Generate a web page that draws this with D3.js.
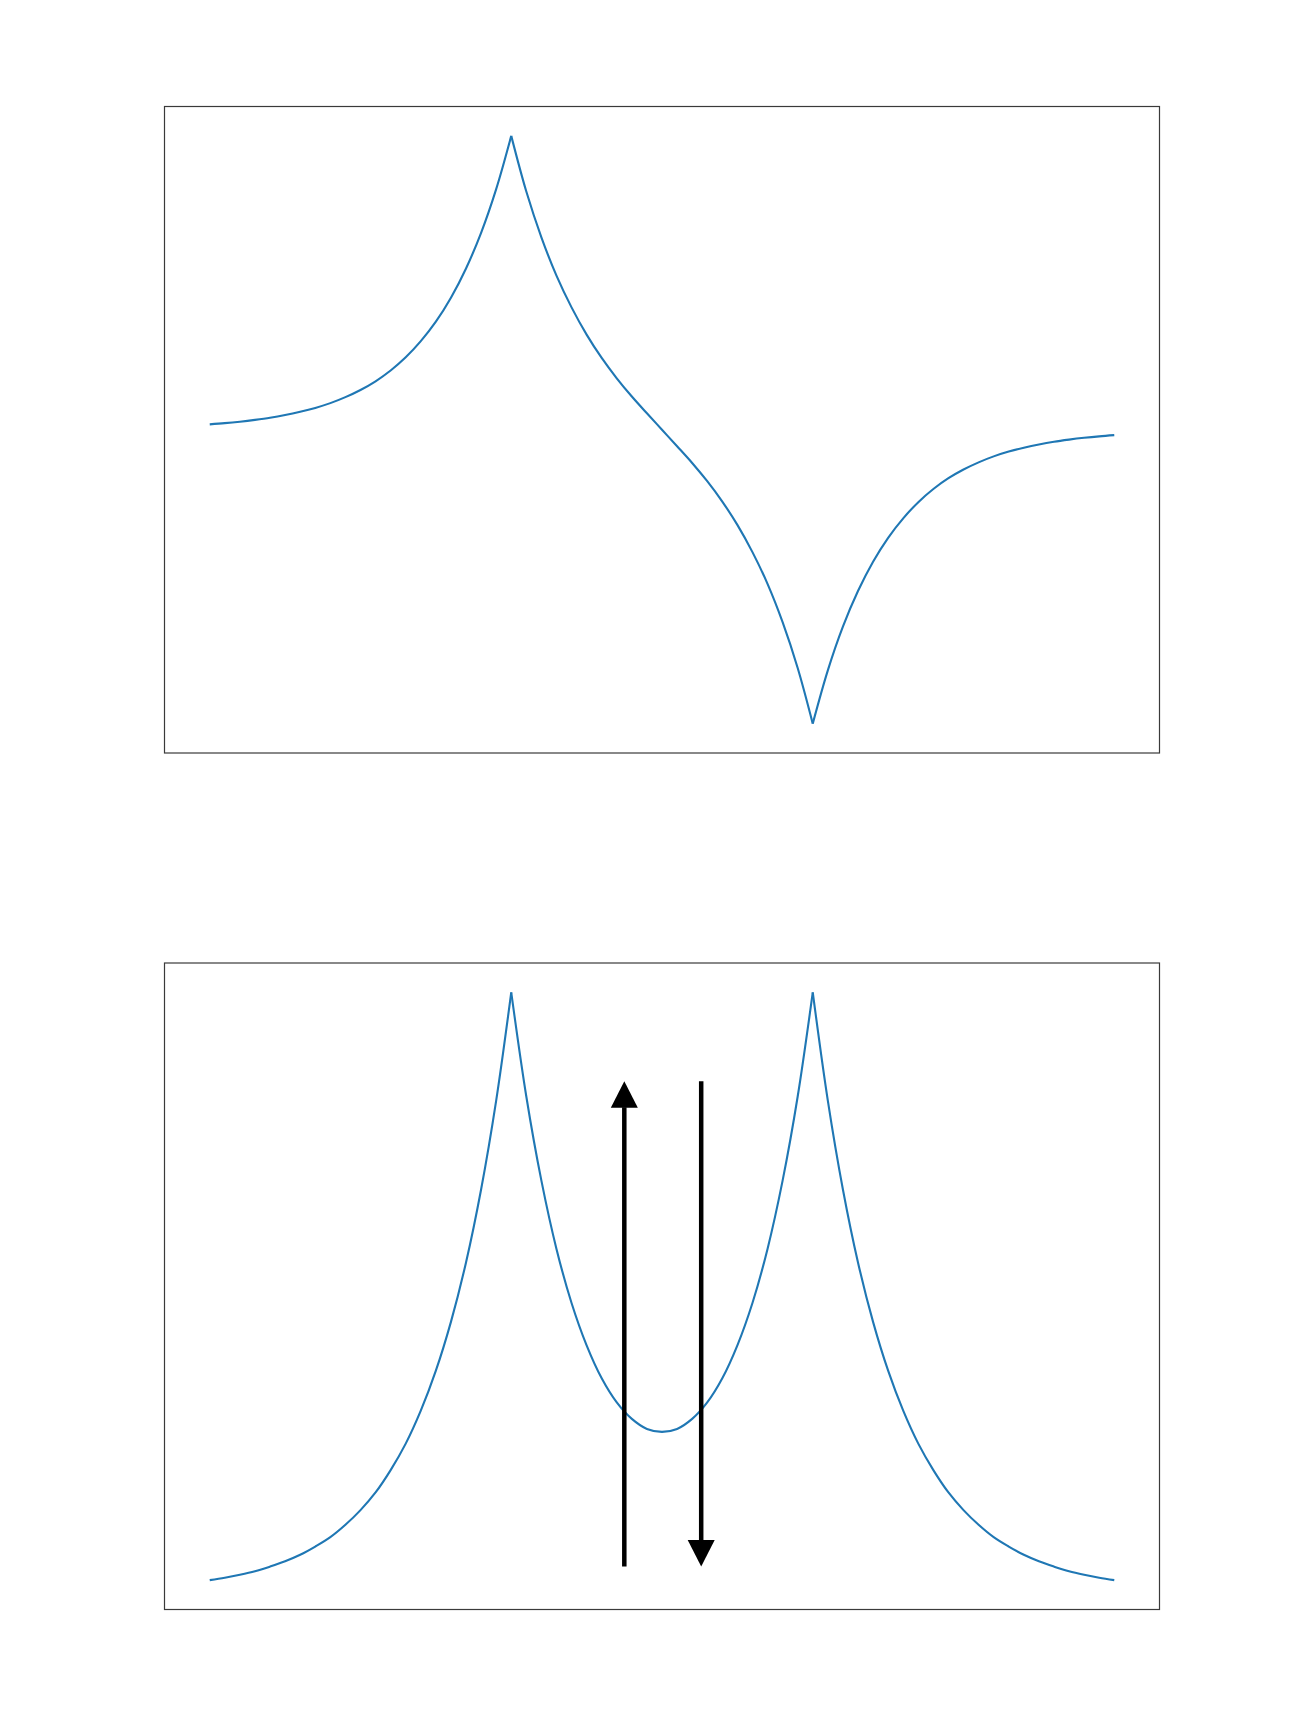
<!DOCTYPE html>
<html>
<head>
<meta charset="utf-8">
<script src="https://cdn.jsdelivr.net/npm/d3@7"></script>
<style>
  html, body { margin: 0; padding: 0; background: #ffffff; }
  svg { display: block; }
</style>
</head>
<body>
<div id="chart"></div>
<script>
// ---------------- data ----------------
const xValues = [
  -3.0, -2.9, -2.8, -2.7, -2.6, -2.5, -2.4, -2.3, -2.2, -2.1,
  -2.0, -1.9, -1.8, -1.7, -1.6, -1.5, -1.4, -1.3, -1.2, -1.1,
  -1.0, -0.9, -0.8, -0.7, -0.6, -0.5, -0.4, -0.3, -0.2, -0.1,
   0.0,  0.1,  0.2,  0.3,  0.4,  0.5,  0.6,  0.7,  0.8,  0.9,
   1.0,  1.1,  1.2,  1.3,  1.4,  1.5,  1.6,  1.7,  1.8,  1.9,
   2.0,  2.1,  2.2,  2.3,  2.4,  2.5,  2.6,  2.7,  2.8,  2.9,
   3.0
];

// upper panel: antisymmetric curve, peak at x=-1, dip at x=+1
const topValues = [
   0.018,  0.022,  0.027,  0.033,  0.040,  0.049,  0.060,  0.073,  0.089,  0.109,
   0.133,  0.162,  0.198,  0.242,  0.296,  0.361,  0.441,  0.539,  0.658,  0.804,
   0.982,  0.796,  0.643,  0.515,  0.409,  0.318,  0.240,  0.172,  0.111,  0.055,
   0.000, -0.055, -0.111, -0.172, -0.240, -0.318, -0.409, -0.515, -0.643, -0.796,
  -0.982, -0.804, -0.658, -0.539, -0.441, -0.361, -0.296, -0.242, -0.198, -0.162,
  -0.133, -0.109, -0.089, -0.073, -0.060, -0.049, -0.040, -0.033, -0.027, -0.022,
  -0.018
];

// lower panel: symmetric curve, peaks at x=-1 and x=+1
const bottomValues = [
   0.019,  0.023,  0.028,  0.034,  0.042,  0.051,  0.062,  0.076,  0.092,  0.113,
   0.138,  0.168,  0.206,  0.251,  0.307,  0.375,  0.458,  0.559,  0.683,  0.834,
   1.018,  0.841,  0.698,  0.582,  0.490,  0.418,  0.362,  0.321,  0.293,  0.276,
   0.271,  0.276,  0.293,  0.321,  0.362,  0.418,  0.490,  0.582,  0.698,  0.841,
   1.018,  0.834,  0.683,  0.559,  0.458,  0.375,  0.307,  0.251,  0.206,  0.168,
   0.138,  0.113,  0.092,  0.076,  0.062,  0.051,  0.042,  0.034,  0.028,  0.023,
   0.019
];

// cusp positions (where the curve has a sharp corner)
const cuspX = [-1.0, 1.0];

// arrows in the lower panel (data coordinates)
const arrowX    = [-0.25, 0.26];
const arrowFrom = [0.042, 0.867];
const arrowTo   = [0.867, 0.042];

// ---------------- layout ----------------
const W = 1292, H = 1718;
const frameLeft = 164.5, frameWidth = 995, frameHeight = 646.5;
const panelTops = [106.5, 963];
const lineColor = "#1f77b4";

const svg = d3.select("#chart").append("svg")
  .attr("width", W).attr("height", H);

function padded(ext) {
  const p = (ext[1] - ext[0]) * 0.05;
  return [ext[0] - p, ext[1] + p];
}

const x = d3.scaleLinear()
  .domain(padded(d3.extent(xValues)))
  .range([frameLeft, frameLeft + frameWidth]);

function drawPanel(top, values) {
  const y = d3.scaleLinear()
    .domain(padded(d3.extent(values)))
    .range([top + frameHeight, top]);

  const g = svg.append("g");
  const pts = xValues.map((d, i) => [d, values[i]]);

  // split at cusps so the corners stay sharp
  const cuts = cuspX.map(c => xValues.findIndex(v => Math.abs(v - c) < 1e-9));
  const bounds = [0, ...cuts, pts.length - 1];
  const line = d3.line()
    .x(d => x(d[0])).y(d => y(d[1]))
    .curve(d3.curveCatmullRom.alpha(0.5));

  const clipId = "clip" + Math.round(top);
  svg.append("clipPath").attr("id", clipId)
    .append("rect").attr("x", frameLeft).attr("y", top)
    .attr("width", frameWidth).attr("height", frameHeight);

  for (let k = 0; k < bounds.length - 1; k++) {
    const seg = pts.slice(bounds[k], bounds[k + 1] + 1);
    g.append("path")
      .attr("clip-path", `url(#${clipId})`)
      .attr("d", line(seg))
      .attr("fill", "none")
      .attr("stroke", lineColor)
      .attr("stroke-width", 2.1)
      .attr("stroke-linejoin", "miter")
      .attr("stroke-linecap", "butt");
  }

  // frame
  svg.append("rect")
    .attr("x", frameLeft).attr("y", top)
    .attr("width", frameWidth).attr("height", frameHeight)
    .attr("fill", "none")
    .attr("stroke", "#3a3a3a")
    .attr("stroke-width", 1.2);

  return y;
}

drawPanel(panelTops[0], topValues);
const yB = drawPanel(panelTops[1], bottomValues);

// arrows
const headLen = 26.5, headHalf = 13.5, shaftW = 4.5;
arrowX.forEach((ax, i) => {
  const px = x(ax);
  const y0 = yB(arrowFrom[i]);
  const y1 = yB(arrowTo[i]);
  const dir = y1 < y0 ? -1 : 1;      // -1: pointing up
  const base = y1 - dir * headLen;
  svg.append("line")
    .attr("x1", px).attr("x2", px)
    .attr("y1", y0).attr("y2", base + dir * 0.5)
    .attr("stroke", "#000").attr("stroke-width", shaftW);
  svg.append("path")
    .attr("d", `M${px},${y1} L${px - headHalf},${base} L${px + headHalf},${base} Z`)
    .attr("fill", "#000");
});
</script>
</body>
</html>
